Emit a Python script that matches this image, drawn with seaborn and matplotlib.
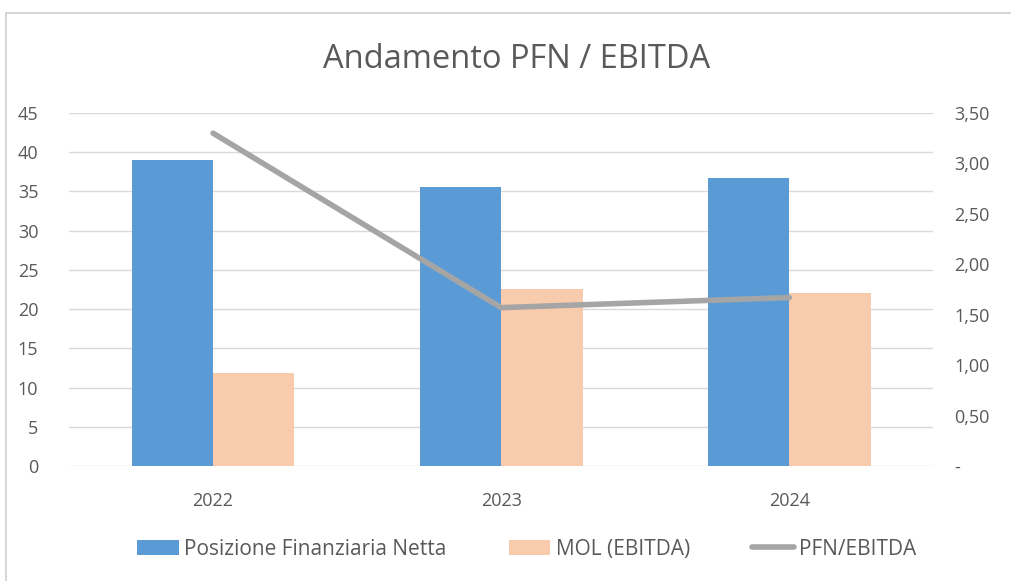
import matplotlib
matplotlib.use("Agg")
import matplotlib.pyplot as plt
import seaborn as sns
import pandas as pd
from matplotlib.lines import Line2D
from matplotlib.patches import Patch
from matplotlib.ticker import FuncFormatter

years = ["2022", "2023", "2024"]
pfn = [39.0, 35.6, 36.7]
mol = [11.9, 22.6, 22.0]
ratio = [3.30, 1.57, 1.67]
series_names = ["Posizione Finanziaria Netta", "MOL (EBITDA)", "PFN/EBITDA"]
left_ticks = [0, 5, 10, 15, 20, 25, 30, 35, 40, 45]
right_ticks = [0, 0.5, 1.0, 1.5, 2.0, 2.5, 3.0, 3.5]

sns.set_theme(style="white")
plt.rcParams['font.family'] = ['Open Sans', 'DejaVu Sans']

blue = "#5B9BD5"
peach = "#F8CBAD"
gray = "#A5A5A5"
txt = "#595959"
grid = "#D9D9D9"

df = pd.DataFrame({
    "year": years * 2,
    "value": pfn + mol,
    "series": [series_names[0]] * 3 + [series_names[1]] * 3,
})

fig = plt.figure(figsize=(10.11, 5.81), dpi=100)
ax = fig.add_axes([0.0682, 0.198, 0.855, 0.6075])

sns.barplot(data=df, x="year", y="value", hue="series", order=years,
            hue_order=series_names[:2], palette=[blue, peach], width=0.565,
            saturation=1, ax=ax, legend=False, errorbar=None, linewidth=0)

ax.set_ylim(0, 45)
ax.set_yticks(left_ticks)
ax.yaxis.grid(True, color=grid, linewidth=1)
ax.set_axisbelow(True)
for s in ax.spines.values():
    s.set_visible(False)
ax.set_xlabel("")
ax.set_ylabel("")
ax.tick_params(axis="both", length=0, colors=txt, labelsize=13)
ax.tick_params(axis="x", pad=19)
ax.tick_params(axis="y", pad=22)

ax2 = ax.twinx()
sns.pointplot(x=years, y=ratio, ax=ax2, color=gray, markers="",
              linewidth=4, errorbar=None)
ax2.set_ylim(0, 3.5)
ax2.set_yticks(right_ticks)
ax2.yaxis.set_major_formatter(FuncFormatter(
    lambda v, p: "-" if abs(v) < 1e-9 else f"{v:.2f}".replace(".", ",")))
for s in ax2.spines.values():
    s.set_visible(False)
ax2.set_ylabel("")
ax2.tick_params(axis="y", length=0, colors=txt, labelsize=13, pad=15)
ax.set_xlim(-0.5, 2.5)
ax2.set_xlim(-0.5, 2.5)
for lab in ax2.get_yticklabels():
    lab.set_ha("left")

fig.text(0.5105, 0.898, "Andamento PFN / EBITDA", ha="center", va="center",
         fontsize=23.5, color=txt)

handles = [Patch(facecolor=blue, edgecolor="none"),
           Patch(facecolor=peach, edgecolor="none"),
           Line2D([0], [0], color=gray, linewidth=4)]
fig.legend(handles, series_names, loc="center", bbox_to_anchor=(0.521, 0.055),
           ncol=3, frameon=False, fontsize=15, labelcolor=txt,
           handlelength=2.0, handleheight=0.7, handletextpad=0.25,
           columnspacing=3.0)

# chart border
fig.add_artist(Line2D([6/1011, 1], [1 - 13/581, 1 - 13/581],
                      transform=fig.transFigure, color="#D0D0D0", linewidth=1.2))
fig.add_artist(Line2D([6/1011, 6/1011], [0, 1 - 13/581],
                      transform=fig.transFigure, color="#D0D0D0", linewidth=1.2))

fig.savefig("out.png", dpi=100, facecolor="white")
